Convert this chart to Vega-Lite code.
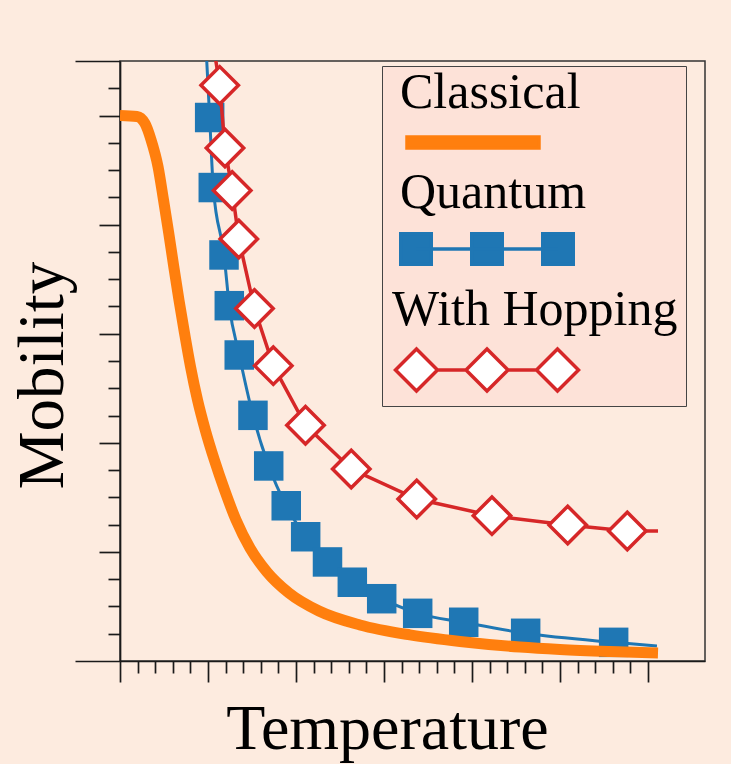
{
  "$schema": "https://vega.github.io/schema/vega-lite/v6.json",
  "width": 585,
  "height": 600,
  "autosize": {"type": "none"},
  "padding": {"left": 120, "top": 61, "right": 26, "bottom": 103},
  "background": "#fdebdf",
  "config": {
    "view": {"stroke": "#333333", "strokeWidth": 1.5, "fill": "#fdebdf"},
    "axis": {"grid": false, "labels": false, "domainColor": "#1a1a1a", "domainWidth": 1.7, "tickColor": "#1a1a1a", "tickWidth": 1.7,
      "titleFont": "Liberation Serif", "titleFontWeight": "normal", "titleFontSize": 65, "titleColor": "#000000"}
  },
  "data": {
    "values": [
      {"s": "Quantum", "x": 0.978, "y": 5.62, "m": 0},
      {"s": "Quantum", "x": 1.019, "y": 4.982, "m": 1},
      {"s": "Quantum", "x": 1.060, "y": 4.340, "m": 1},
      {"s": "Quantum", "x": 1.182, "y": 3.722, "m": 1},
      {"s": "Quantum", "x": 1.242, "y": 3.257, "m": 1},
      {"s": "Quantum", "x": 1.355, "y": 2.805, "m": 1},
      {"s": "Quantum", "x": 1.511, "y": 2.252, "m": 1},
      {"s": "Quantum", "x": 1.690, "y": 1.788, "m": 1},
      {"s": "Quantum", "x": 1.889, "y": 1.423, "m": 1},
      {"s": "Quantum", "x": 2.110, "y": 1.139, "m": 1},
      {"s": "Quantum", "x": 2.358, "y": 0.908, "m": 1},
      {"s": "Quantum", "x": 2.640, "y": 0.722, "m": 1},
      {"s": "Quantum", "x": 2.974, "y": 0.571, "m": 1},
      {"s": "Quantum", "x": 3.383, "y": 0.437, "m": 1},
      {"s": "Quantum", "x": 3.906, "y": 0.355, "m": 1},
      {"s": "Quantum", "x": 4.610, "y": 0.254, "m": 1},
      {"s": "Quantum", "x": 5.610, "y": 0.171, "m": 1},
      {"s": "Quantum", "x": 6.102, "y": 0.138, "m": 0},
      {"s": "Classical", "x": 0, "y": 5.0, "m": 0},
      {"s": "Classical", "x": 0.193, "y": 4.991, "m": 0},
      {"s": "Classical", "x": 0.284, "y": 4.927, "m": 0},
      {"s": "Classical", "x": 0.352, "y": 4.780, "m": 0},
      {"s": "Classical", "x": 0.432, "y": 4.532, "m": 0},
      {"s": "Classical", "x": 0.494, "y": 4.229, "m": 0},
      {"s": "Classical", "x": 0.553, "y": 3.927, "m": 0},
      {"s": "Classical", "x": 0.611, "y": 3.615, "m": 0},
      {"s": "Classical", "x": 0.670, "y": 3.309, "m": 0},
      {"s": "Classical", "x": 0.733, "y": 3.007, "m": 0},
      {"s": "Classical", "x": 0.802, "y": 2.695, "m": 0},
      {"s": "Classical", "x": 0.881, "y": 2.393, "m": 0},
      {"s": "Classical", "x": 0.969, "y": 2.118, "m": 0},
      {"s": "Classical", "x": 1.072, "y": 1.843, "m": 0},
      {"s": "Classical", "x": 1.188, "y": 1.568, "m": 0},
      {"s": "Classical", "x": 1.318, "y": 1.293, "m": 0},
      {"s": "Classical", "x": 1.477, "y": 1.036, "m": 0},
      {"s": "Classical", "x": 1.670, "y": 0.816, "m": 0},
      {"s": "Classical", "x": 1.920, "y": 0.623, "m": 0},
      {"s": "Classical", "x": 2.261, "y": 0.458, "m": 0},
      {"s": "Classical", "x": 2.727, "y": 0.330, "m": 0},
      {"s": "Classical", "x": 3.295, "y": 0.239, "m": 0},
      {"s": "Classical", "x": 3.864, "y": 0.179, "m": 0},
      {"s": "Classical", "x": 4.545, "y": 0.128, "m": 0},
      {"s": "Classical", "x": 5.0, "y": 0.106, "m": 0},
      {"s": "Classical", "x": 5.568, "y": 0.087, "m": 0},
      {"s": "Classical", "x": 6.114, "y": 0.073, "m": 0},
      {"s": "With Hopping", "x": 1.07, "y": 5.6, "m": 0},
      {"s": "With Hopping", "x": 1.133, "y": 5.277, "m": 1},
      {"s": "With Hopping", "x": 1.193, "y": 4.703, "m": 1},
      {"s": "With Hopping", "x": 1.275, "y": 4.313, "m": 1},
      {"s": "With Hopping", "x": 1.350, "y": 3.868, "m": 1},
      {"s": "With Hopping", "x": 1.528, "y": 3.231, "m": 1},
      {"s": "With Hopping", "x": 1.742, "y": 2.707, "m": 1},
      {"s": "With Hopping", "x": 2.108, "y": 2.161, "m": 1},
      {"s": "With Hopping", "x": 2.628, "y": 1.760, "m": 1},
      {"s": "With Hopping", "x": 3.372, "y": 1.485, "m": 1},
      {"s": "With Hopping", "x": 4.227, "y": 1.332, "m": 1},
      {"s": "With Hopping", "x": 5.088, "y": 1.247, "m": 1},
      {"s": "With Hopping", "x": 5.765, "y": 1.192, "m": 1},
      {"s": "With Hopping", "x": 6.114, "y": 1.192, "m": 0}
    ]
  },
  "encoding": {
    "x": {"field": "x", "type": "quantitative", "scale": {"domain": [0, 6.648], "nice": false, "zero": false},
      "axis": {"title": "Temperature", "values": [0,0.2,0.4,0.6,0.8,1,1.2,1.4,1.6,1.8,2,2.2,2.4,2.6,2.8,3,3.2,3.4,3.6,3.8,4,4.2,4.4,4.6,4.8,5,5.2,5.4,5.6,5.8,6],
        "tickSize": {"condition": {"test": "datum.value % 1 === 0", "value": 21}, "value": 12},
        "titleFontSize": 64, "titleX": 267, "titleY": 87, "titleBaseline": "alphabetic", "titleAlign": "center"}},
    "y": {"field": "y", "type": "quantitative", "scale": {"domain": [0, 5.5], "nice": false, "zero": false},
      "axis": {"title": "Mobility", "values": [0,0.25,0.5,0.75,1,1.25,1.5,1.75,2,2.25,2.5,2.75,3,3.25,3.5,3.75,4,4.25,4.5,4.75,5,5.25,5.5],
        "tickSize": {"condition": [{"test": "datum.value === 0 || datum.value === 5.5", "value": 45}, {"test": "datum.value % 1 === 0", "value": 21}], "value": 12},
        "titleX": -58, "titleY": 314, "titleAngle": -90, "titleBaseline": "alphabetic", "titleAlign": "center"}}
  },
  "layer": [
    {
      "transform": [{"filter": "datum.s === 'Quantum'"}],
      "mark": {"type": "line", "strokeWidth": 3, "interpolate": "monotone", "clip": true},
      "encoding": {
        "color": {"field": "s", "type": "nominal",
          "scale": {"domain": ["Classical", "Quantum", "With Hopping"], "range": ["#ff7f0e", "#1f77b4", "#d62728"]},
          "legend": {
            "title": null, "orient": "none", "legendX": 262, "legendY": 5, "direction": "vertical",
            "fillColor": "#fde2d8", "strokeColor": "#444444", "padding": 8, "cornerRadius": 0,
            "labelFont": "Liberation Serif", "labelFontSize": 50, "labelColor": "#000000", "labelLimit": 400,
            "labelOffset": -112, "symbolOffset": 72,
            "symbolSize": 100, "symbolStrokeWidth": 3.5, "rowPadding": 13,
            "encode": {
              "symbols": {"update": {
                "shape": [
                  {"test": "datum.value === 'Classical'", "value": "M-16,7.6H10.4V9.8H-16Z"},
                  {"test": "datum.value === 'Quantum'", "value": "M-17.25,6.95H-11.15V13.05H-17.25Z M-3.05,6.95H3.05V13.05H-3.05Z M11.15,6.95H17.25V13.05H11.15Z M-14.2,10H14.2"},
                  {"value": "M-18.3,10.8L-14.1,6.6L-9.9,10.8L-14.1,15Z M-4.2,10.8L0,6.6L4.2,10.8L0,15Z M9.9,10.8L14.1,6.6L18.3,10.8L14.1,15Z M-9.9,10.8H-4.2 M4.2,10.8H9.9"}
                ],
                "fill": [
                  {"test": "datum.value === 'Classical'", "value": "#ff7f0e"},
                  {"test": "datum.value === 'Quantum'", "value": "#1f77b4"},
                  {"value": "#ffffff"}
                ],
                "stroke": [
                  {"test": "datum.value === 'Classical'", "value": "transparent"},
                  {"test": "datum.value === 'Quantum'", "value": "#1f77b4"},
                  {"value": "#d62728"}
                ],
                "fillOpacity": {"value": 1},
                "strokeOpacity": {"value": 1},
                "opacity": {"value": 1}
              }},
              "labels": {"update": {
                "dx": [{"test": "datum.value === 'With Hopping'", "value": -8}, {"value": 0}],
                "dy": {"value": -6}
              }}
            }
          }}
      }
    },
    {
      "transform": [{"filter": "datum.s === 'Quantum' && datum.m === 1"}],
      "mark": {"type": "point", "shape": "square", "filled": true, "size": 870, "color": "#1f77b4", "opacity": 1}
    },
    {
      "transform": [{"filter": "datum.s === 'Classical'"}],
      "mark": {"type": "line", "strokeWidth": 11, "interpolate": "monotone", "strokeCap": "butt", "clip": true},
      "encoding": {"color": {"field": "s", "type": "nominal"}}
    },
    {
      "transform": [{"filter": "datum.s === 'With Hopping'"}],
      "mark": {"type": "line", "strokeWidth": 3.5, "clip": true},
      "encoding": {"color": {"field": "s", "type": "nominal"}}
    },
    {
      "transform": [{"filter": "datum.s === 'With Hopping' && datum.m === 1"}],
      "mark": {"type": "point", "shape": "diamond", "filled": true, "fill": "#ffffff", "stroke": "#d62728", "strokeWidth": 3.5, "size": 1400, "opacity": 1}
    }
  ]
}
